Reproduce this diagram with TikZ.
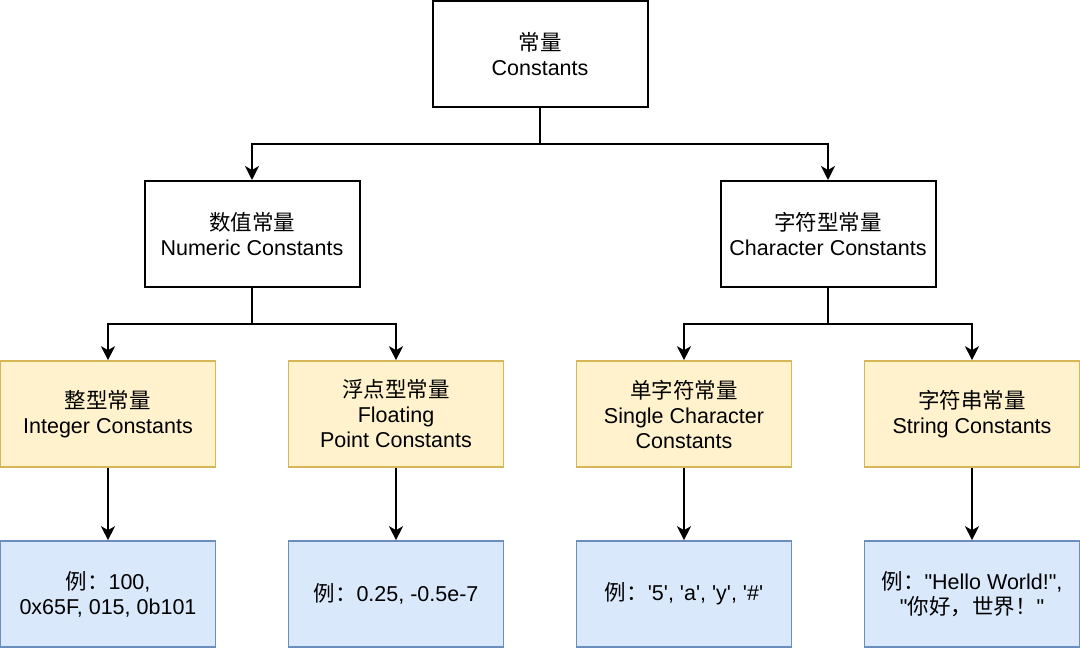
\documentclass[tikz,border=0pt]{standalone}
\usepackage{fontspec}
\newfontfamily\lat{Liberation Sans}
\newfontfamily\cjk{Noto Sans CJK SC}
\usetikzlibrary{arrows.meta}
\definecolor{ylfill}{HTML}{FFF2CC}
\definecolor{ylline}{HTML}{D6B656}
\definecolor{blfill}{HTML}{DAE8FC}
\definecolor{blline}{HTML}{6C8EBF}
\begin{document}
\begin{tikzpicture}[x=1pt,y=-1pt,
  box/.style={draw=black,line width=2pt,fill=white,minimum width=215pt,minimum height=106pt,align=center,inner sep=0pt,
    font=\lat\fontsize{21.5}{25}\selectfont},
  ybox/.style={box,draw=ylline,fill=ylfill,line width=1.6pt},
  bbox/.style={box,draw=blline,fill=blfill,line width=1.6pt},
  arr/.style={line width=2pt,-{Stealth[length=14pt,width=14pt,inset=4pt]}}]
\useasboundingbox (0,0) rectangle (1080,648);
\node[box] (top) at (540,54) {{\cjk 常量}\\Constants};
\node[box] (num) at (252,234) {{\cjk 数值常量}\\Numeric Constants};
\node[box] (chr) at (828,234) {{\cjk 字符型常量}\\Character Constants};
\node[ybox] (int) at (108,414) {{\cjk 整型常量}\\Integer Constants};
\node[ybox] (flt) at (396,414) {{\cjk 浮点型常量}\\Floating\\Point Constants};
\node[ybox] (sgl) at (684,414) {{\cjk 单字符常量}\\Single Character\\Constants};
\node[ybox] (str) at (972,414) {{\cjk 字符串常量}\\String Constants};
\node[bbox] (e1) at (108,594) {{\cjk 例：}100,\\0x65F, 015, 0b101};
\node[bbox] (e2) at (396,594) {{\cjk 例：}0.25, -0.5e-7};
\node[bbox] (e3) at (684,594) {{\cjk 例：}'5', 'a', 'y', '\#'};
\node[bbox] (e4) at (972,594) {{\cjk 例：}"Hello World!",\\"{\cjk 你好，世界！}"};
\draw[arr] (top.south) -- ++(0,36) -| (num.north);
\draw[arr] (top.south) -- ++(0,36) -| (chr.north);
\draw[arr] (num.south) -- ++(0,36) -| (int.north);
\draw[arr] (num.south) -- ++(0,36) -| (flt.north);
\draw[arr] (chr.south) -- ++(0,36) -| (sgl.north);
\draw[arr] (chr.south) -- ++(0,36) -| (str.north);
\draw[arr] (int) -- (e1);
\draw[arr] (flt) -- (e2);
\draw[arr] (sgl) -- (e3);
\draw[arr] (str) -- (e4);
\end{tikzpicture}
\end{document}
